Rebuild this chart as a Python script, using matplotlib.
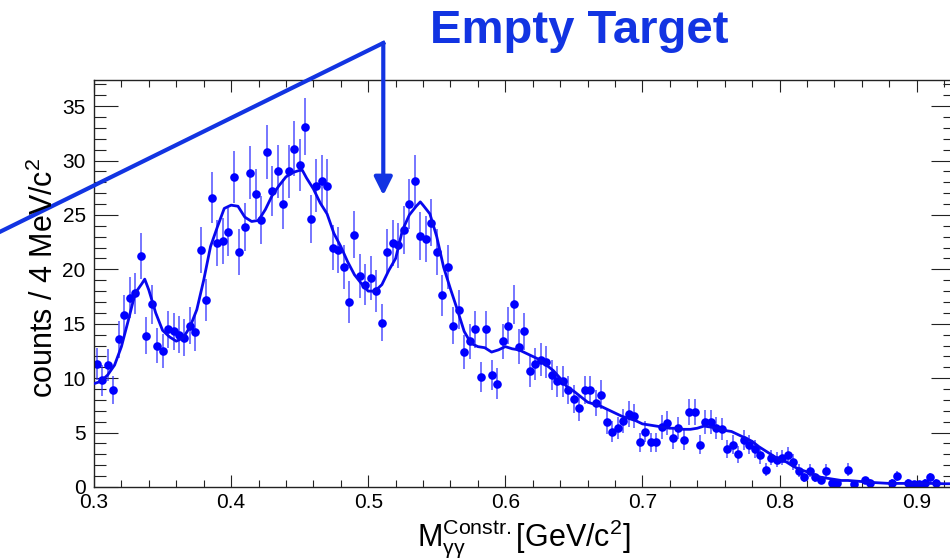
import numpy as np
import matplotlib
matplotlib.use("Agg")
import matplotlib.pyplot as plt
from matplotlib.ticker import MultipleLocator

plt.rcParams['font.family'] = ['Liberation Sans', 'DejaVu Sans']
plt.rcParams['mathtext.fontset'] = 'custom'
plt.rcParams['mathtext.rm'] = 'Liberation Sans'
plt.rcParams['mathtext.it'] = 'Liberation Sans:italic'
plt.rcParams['mathtext.bf'] = 'Liberation Sans:bold'

# Histogram binning (GeV/c^2)
first_center = 0.302
bin_width = 0.004

# Bin contents (counts / 4 MeV/c^2); empty bins are 0 and not drawn
counts = [
    11.3, 9.8, 11.2, 8.9, 13.6, 15.8, 17.4, 17.8, 21.2, 13.9,
    16.8, 13.0, 12.5, 14.5, 14.3, 14.0, 13.7, 14.8, 14.2, 21.8,
    17.2, 26.6, 22.4, 22.6, 23.4, 28.5, 21.6, 23.9, 28.9, 26.9,
    24.5, 30.8, 27.2, 29.0, 26.0, 29.0, 31.1, 29.6, 33.1, 24.6,
    27.7, 28.1, 27.7, 22.0, 21.8, 20.2, 17.0, 23.2, 19.4, 18.6,
    19.2, 18.0, 15.1, 21.6, 22.4, 22.2, 23.6, 26.0, 28.1, 23.1,
    22.8, 24.3, 21.6, 17.6, 20.2, 14.8, 16.3, 12.4, 13.4, 14.5,
    10.1, 14.5, 10.3, 9.5, 13.4, 14.8, 16.8, 12.9, 14.3, 10.7,
    11.3, 11.7, 11.5, 10.3, 9.7, 9.7, 8.9, 8.1, 7.3, 8.9,
    8.9, 7.7, 8.5, 6.0, 5.1, 5.4, 6.1, 6.7, 6.5, 4.1,
    5.1, 4.1, 4.1, 5.5, 5.9, 4.5, 5.4, 4.3, 6.9, 6.9,
    3.9, 6.0, 6.0, 5.4, 5.3, 3.5, 3.9, 3.0, 4.3, 3.9,
    3.5, 2.9, 1.6, 2.7, 2.5, 2.7, 2.9, 2.3, 1.5, 0.9,
    1.5, 0.9, 0.6, 1.5, 0.4, 0.4, 0.0, 1.6, 0.3, 0.0,
    0.6, 0.4, 0.0, 0.0, 0.0, 0.4, 1.0, 0.0, 0.4, 0.3,
    0.3, 0.4, 0.9, 0.4,
]

# Statistical uncertainties of the bin contents
errors = [
    1.5, 1.4, 1.5, 1.3, 1.7, 1.8, 1.9, 1.9, 2.1, 1.7,
    1.8, 1.6, 1.6, 1.7, 1.7, 1.7, 1.7, 1.7, 1.7, 2.1,
    1.9, 2.3, 2.1, 2.1, 2.2, 2.4, 2.1, 2.2, 2.4, 2.3,
    2.2, 2.5, 2.3, 2.4, 2.3, 2.4, 2.5, 2.4, 2.6, 2.2,
    2.4, 2.4, 2.4, 2.1, 2.1, 2.0, 1.9, 2.2, 2.0, 1.9,
    2.0, 1.9, 1.7, 2.1, 2.1, 2.1, 2.2, 2.3, 2.4, 2.2,
    2.1, 2.2, 2.1, 1.9, 2.0, 1.7, 1.8, 1.6, 1.6, 1.7,
    1.4, 1.7, 1.4, 1.4, 1.6, 1.7, 1.8, 1.6, 1.7, 1.5,
    1.5, 1.5, 1.5, 1.4, 1.4, 1.4, 1.3, 1.3, 1.2, 1.3,
    1.3, 1.2, 1.3, 1.1, 1.0, 1.0, 1.1, 1.2, 1.1, 0.9,
    1.0, 0.9, 0.9, 1.1, 1.1, 1.0, 1.0, 0.9, 1.2, 1.2,
    0.9, 1.1, 1.1, 1.0, 1.0, 0.8, 0.9, 0.8, 0.9, 0.9,
    0.8, 0.8, 0.6, 0.7, 0.7, 0.7, 0.8, 0.7, 0.6, 0.4,
    0.6, 0.4, 0.35, 0.6, 0.3, 0.3, 0.0, 0.6, 0.25, 0.0,
    0.35, 0.3, 0.0, 0.0, 0.0, 0.3, 0.45, 0.0, 0.3, 0.25,
    0.25, 0.3, 0.4, 0.3,
]

# Smoothed distribution
curve_mass = [
    0.300, 0.305, 0.310, 0.315, 0.320, 0.325, 0.330, 0.335, 0.337, 0.340,
    0.345, 0.350, 0.355, 0.360, 0.365, 0.370, 0.375, 0.380, 0.385, 0.390,
    0.395, 0.400, 0.405, 0.410, 0.415, 0.420, 0.425, 0.430, 0.435, 0.440,
    0.445, 0.450, 0.452, 0.455, 0.460, 0.465, 0.470, 0.475, 0.480, 0.485,
    0.490, 0.495, 0.500, 0.505, 0.510, 0.515, 0.520, 0.525, 0.530, 0.535,
    0.538, 0.540, 0.545, 0.550, 0.555, 0.560, 0.565, 0.570, 0.575, 0.580,
    0.585, 0.590, 0.595, 0.600, 0.605, 0.610, 0.615, 0.620, 0.625, 0.630,
    0.635, 0.640, 0.645, 0.650, 0.655, 0.660, 0.665, 0.670, 0.675, 0.680,
    0.685, 0.690, 0.695, 0.700, 0.705, 0.710, 0.715, 0.720, 0.725, 0.730,
    0.735, 0.740, 0.745, 0.750, 0.755, 0.760, 0.765, 0.770, 0.775, 0.780,
    0.785, 0.790, 0.795, 0.800, 0.805, 0.810, 0.815, 0.820, 0.825, 0.830,
    0.835, 0.840, 0.845, 0.850, 0.860, 0.870, 0.880, 0.890, 0.900, 0.910,
    0.920, 0.928,
]
curve_counts = [
    9.5, 9.7, 10.3, 11.2, 12.9, 15.3, 17.8, 18.7, 19.1, 18.1,
    16.0, 14.4, 13.8, 13.4, 13.7, 14.7, 16.3, 19.0, 22.1, 23.9,
    25.6, 25.9, 25.8, 24.8, 24.4, 24.5, 25.5, 26.8, 27.7, 28.5,
    28.9, 29.1, 29.1, 28.4, 27.4, 26.1, 25.1, 23.3, 22.1, 20.7,
    19.5, 18.7, 18.0, 18.0, 18.6, 19.9, 21.0, 23.6, 25.0, 25.8,
    26.2, 25.9, 25.1, 23.0, 20.2, 18.2, 16.3, 14.3, 13.2, 12.9,
    12.8, 12.4, 12.6, 12.9, 12.7, 12.6, 12.3, 12.0, 11.7, 11.2,
    10.7, 10.0, 9.2, 8.8, 8.3, 7.8, 7.6, 7.4, 7.1, 6.8,
    6.5, 6.3, 6.1, 5.8, 5.7, 5.6, 5.5, 5.4, 5.4, 5.3,
    5.3, 5.4, 5.6, 5.5, 5.4, 5.2, 5.1, 4.8, 4.5, 4.2,
    3.7, 3.3, 2.9, 2.5, 2.3, 1.9, 1.6, 1.4, 1.1, 0.9,
    0.8, 0.7, 0.6, 0.6, 0.5, 0.4, 0.33, 0.33, 0.33, 0.33,
    0.3, 0.3,
]

x_range = (0.3, 0.928)
y_range = (0.0, 37.4)

blue = '#0000ff'
note_blue = '#1234e2'

counts_arr = np.array(counts)
err_arr = np.array(errors)
centers = first_center + bin_width * np.arange(len(counts_arr))
filled = counts_arr > 0

fig = plt.figure(figsize=(9.5, 5.6), dpi=100)
ax = fig.add_axes([94 / 950, 73 / 560, 861 / 950, 407 / 560])

ax.errorbar(centers[filled], counts_arr[filled], yerr=err_arr[filled],
            fmt='o', color=blue, ms=6.2, mew=0, elinewidth=1.1,
            ecolor=(0.15, 0.15, 1.0, 0.8), capsize=0, zorder=2)
ax.plot(curve_mass, curve_counts, color='#0808ee', lw=2.0, zorder=3)

ax.set_xlim(*x_range)
ax.set_ylim(*y_range)

ax.xaxis.set_major_locator(MultipleLocator(0.1))
ax.xaxis.set_minor_locator(MultipleLocator(0.02))
ax.yaxis.set_major_locator(MultipleLocator(5))
ax.yaxis.set_minor_locator(MultipleLocator(1))
ax.xaxis.set_major_formatter(plt.FuncFormatter(lambda v, p: f'{v:.1f}'))

ax.tick_params(which='both', direction='in', top=True, right=True,
               width=0.8, colors='#222222', labelcolor='black', labelsize=15)
ax.tick_params(axis='x', which='major', length=8.6, pad=4)
ax.tick_params(axis='x', which='minor', length=5)
ax.tick_params(axis='y', which='major', length=17, pad=6)
ax.tick_params(axis='y', which='minor', length=8.6)
for s in ax.spines.values():
    s.set_linewidth(1.0)
    s.set_color('#222222')

fig.text(524 / 950, 1 - 546 / 560,
         r'$\mathregular{M_{γγ}^{Constr.}}$' + '[GeV/c$^{2}$]',
         fontsize=22, ha='center', va='baseline')
fig.text(44 / 950, 1 - 278 / 560, 'counts / 4 MeV/c$^{2}$',
         fontsize=22, rotation=90, ha='center', va='center')

fig.text(430 / 950, 1 - 43 / 560, 'Empty Target', fontsize=34,
         fontweight='bold', color=note_blue, ha='left', va='baseline')

# Pointer line from the label down into the plot
apex = (0.511, 40.8)
tail = (0.20, 21.5)
tip = (0.511, 26.8)
ax.plot([tail[0], apex[0]], [tail[1], apex[1]], color=note_blue, lw=3,
        clip_on=False, solid_capstyle='projecting', zorder=4)
ax.annotate('', xy=tip, xytext=apex, annotation_clip=False,
            arrowprops=dict(arrowstyle='-|>,head_length=0.6,head_width=0.3',
                            mutation_scale=18, lw=3, color=note_blue,
                            shrinkA=0, shrinkB=0), zorder=4)

fig.savefig('out.png', dpi=100)
